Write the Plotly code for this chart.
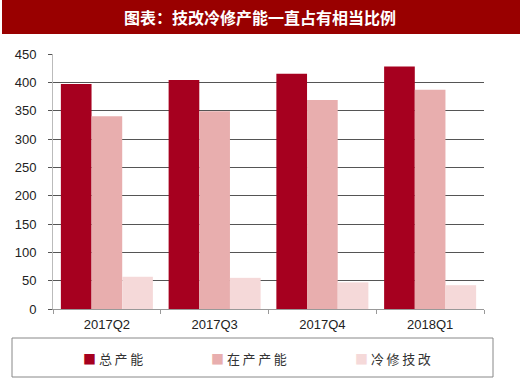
import plotly.graph_objects as go

categories = ["2017Q2", "2017Q3", "2017Q4", "2018Q1"]
total_capacity = [397, 404, 415, 428]
active_capacity = [340, 349, 369, 387]
repair_capacity = [57, 55, 47, 42]
series_names = ["总产能", "在产产能", "冷修技改"]
colors = ["#A6001F", "#E8AEAE", "#F5D9D9"]
title_text = "图表：技改冷修产能一直占有相当比例"
y_ticks = [0, 50, 100, 150, 200, 250, 300, 350, 400, 450]

W, H = 520, 383
L, R, T, B = 53, 36, 54, 74
PW, PH = W - L - R, H - T - B


def px(x):
    return (x - L) / PW


def py(y):
    return (H - B - y) / PH


fig = go.Figure()
for name, vals, c in zip(series_names, [total_capacity, active_capacity, repair_capacity], colors):
    fig.add_trace(go.Bar(x=categories, y=vals, name=name, marker=dict(color=c, line=dict(width=0)),
                         showlegend=False))

fig.update_layout(
    width=W, height=H,
    margin=dict(l=L, r=R, t=T, b=B),
    paper_bgcolor="white", plot_bgcolor="white",
    barmode="group", bargap=0.146, bargroupgap=0,
    font=dict(family="Liberation Sans, Arial", size=13, color="#222"),
)
fig.update_yaxes(
    range=[0, 450], tickvals=y_ticks, showgrid=True, gridcolor="#555", gridwidth=1,
    ticks="outside", ticklen=4, tickcolor="#555", showline=True, linecolor="#bbb", linewidth=1,
    zeroline=False, ticklabelstandoff=9, tickfont=dict(size=13, color="#222"),
)
fig.update_xaxes(
    showline=True, linecolor="#999", linewidth=1, ticks="outside", ticklen=4, tickcolor="#999",
    tickson="boundaries", tickfont=dict(size=13, color="#222"), showgrid=False,
    ticklabelstandoff=3,
)

shapes = [
    dict(type="rect", xref="paper", yref="paper", x0=px(2), x1=px(520), y0=py(34), y1=py(0),
         fillcolor="#990000", line=dict(width=0), layer="above"),
    dict(type="rect", xref="paper", yref="paper", x0=px(12), x1=px(493), y0=py(377), y1=py(338),
         fillcolor="rgba(0,0,0,0)", line=dict(width=1, color="#888")),
]
fig.update_layout(shapes=shapes)

fig.add_annotation(xref="paper", yref="paper", x=px(260), y=py(17), text="<b>" + title_text + "</b>",
                   showarrow=False, font=dict(family="Noto Sans CJK SC", size=16, color="white"),
                   xanchor="center", yanchor="middle")

leg_x = [81, 209, 353]
for name, c, lx in zip(series_names, colors, leg_x):
    spaced = "\u2009".join(list(name))
    fig.add_annotation(xref="paper", yref="paper", x=px(lx), y=py(358),
                       text=f"<span style='color:{c}'>■</span> {spaced}",
                       showarrow=False, font=dict(family="Noto Sans CJK SC", size=13, color="#333"),
                       xanchor="left", yanchor="middle")

fig.write_html("out.html", config={"displayModeBar": False},
               post_script="document.body.style.margin='0';document.body.style.overflow='hidden';")
